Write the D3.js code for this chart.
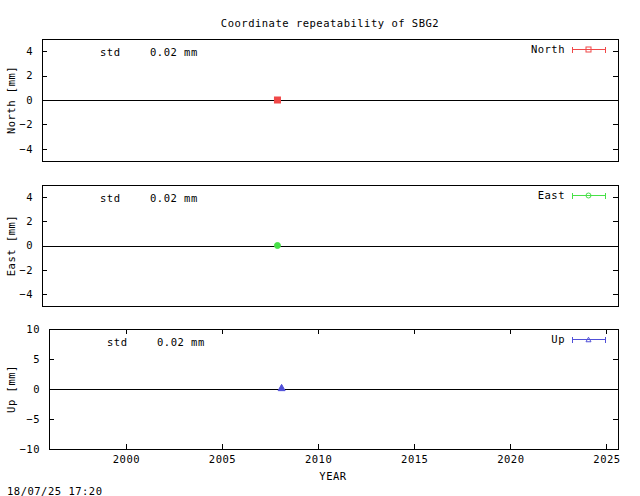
<!DOCTYPE html>
<html>
<head>
<meta charset="utf-8">
<script src="https://cdn.jsdelivr.net/npm/d3@7"></script>
<style>
  body { margin: 0; background: #fff; }
  svg text { font-family: "DejaVu Sans Mono", monospace; font-size: 10.5px; letter-spacing: 0.5px; fill: #000; }
</style>
</head>
<body>
<script>
// values
var components = ["North", "East", "Up"]
var epochs = [2008.1]
var northVals = [0.0]
var eastVals = [0.0]
var upVals = [0.0]
var stdVals = [0.02, 0.02, 0.02]
var yTicksSmall = [-4, -2, 0, 2, 4]
var yTicksUp = [-10, -5, 0, 5, 10]
var xTicks = [2000, 2005, 2010, 2015, 2020, 2025]
var yearRange = [1996, 2025.6]

var width = 640, height = 496

var svg = d3.select("body").append("svg")
  .attr("width", width)
  .attr("height", height)

// panel boxes, gnuplot multiplot style
var panels = [
  { name: components[0], vals: northVals, std: stdVals[0], left: 42, top: 39, bottom: 161, ydom: [-5, 5], yticks: yTicksSmall, color: "#f04848", marker: "square", xaxis: false },
  { name: components[1], vals: eastVals, std: stdVals[1], left: 42, top: 185, bottom: 306, ydom: [-5, 5], yticks: yTicksSmall, color: "#48e048", marker: "circle", xaxis: false },
  { name: components[2], vals: upVals, std: stdVals[2], left: 49, top: 329, bottom: 449, ydom: [-10, 10], yticks: yTicksUp, color: "#5050d8", marker: "triangle", xaxis: true }
]
var right = 618

svg.append("text")
  .attr("x", 330)
  .attr("y", 23)
  .attr("dy", "0.35em")
  .attr("text-anchor", "middle")
  .text("Coordinate repeatability of SBG2")

function drawMarker(g, kind, cx, cy, color, size, filled) {
  if (kind === "square") {
    g.append("rect")
      .attr("x", cx - size / 2).attr("y", cy - size / 2)
      .attr("width", size).attr("height", size)
      .attr("fill", filled ? color : "none")
      .attr("stroke", color)
  } else if (kind === "circle") {
    g.append("circle")
      .attr("cx", cx).attr("cy", cy).attr("r", size / 2)
      .attr("fill", filled ? color : "none")
      .attr("stroke", color)
  } else {
    var h = size * 0.9
    g.append("path")
      .attr("d", "M" + (cx - size / 2) + "," + (cy + h / 2) + "L" + cx + "," + (cy - h / 2) + "L" + (cx + size / 2) + "," + (cy + h / 2) + "Z")
      .attr("fill", filled ? color : "none")
      .attr("stroke", color)
  }
}

panels.forEach(function (p) {
  var x = d3.scaleLinear().domain(yearRange).range([p.left, right])
  var y = d3.scaleLinear().domain(p.ydom).range([p.bottom, p.top])
  var g = svg.append("g")

  // y ticks, left with labels and mirrored right
  var yl = g.append("g")
    .attr("transform", "translate(" + p.left + ",0)")
    .call(d3.axisLeft(y).tickValues(p.yticks).tickSize(-5).tickPadding(9).tickFormat(d3.format("d")))
  var yr = g.append("g")
    .attr("transform", "translate(" + right + ",0)")
    .call(d3.axisRight(y).tickValues(p.yticks).tickSize(-5).tickFormat(""))
  var axes = [yl, yr]

  if (p.xaxis) {
    var xb = g.append("g")
      .attr("transform", "translate(0," + p.bottom + ")")
      .call(d3.axisBottom(x).tickValues(xTicks).tickSize(-5).tickPadding(7).tickFormat(d3.format("d")))
    var xt = g.append("g")
      .attr("transform", "translate(0," + p.top + ")")
      .call(d3.axisTop(x).tickValues(xTicks).tickSize(-5).tickFormat(""))
    axes.push(xb, xt)
    g.append("text")
      .attr("x", 333)
      .attr("y", 476)
      .attr("dy", "0.35em")
      .attr("text-anchor", "middle")
      .text("YEAR")
  }
  axes.forEach(function (a) {
    a.select(".domain").remove()
    a.selectAll("line").attr("stroke", "#000").attr("shape-rendering", "crispEdges")
    a.attr("font-family", null).attr("font-size", null)
  })

  // frame
  g.append("rect")
    .attr("x", p.left).attr("y", p.top)
    .attr("width", right - p.left).attr("height", p.bottom - p.top)
    .attr("fill", "none").attr("stroke", "#000")
    .attr("shape-rendering", "crispEdges")

  // zero axis
  var y0 = Math.round(y(0)) + 0.5
  g.append("line")
    .attr("x1", p.left).attr("x2", right)
    .attr("y1", y0).attr("y2", y0)
    .attr("stroke", "#000").attr("stroke-width", 1)
    .attr("shape-rendering", "crispEdges")

  // y label
  g.append("text")
    .attr("transform", "translate(11," + ((p.top + p.bottom) / 2) + ") rotate(-90)")
    .attr("dy", "0.35em")
    .attr("text-anchor", "middle")
    .text(p.name + " [mm]")

  // std annotation
  g.append("text")
    .attr("x", p.left + 58).attr("y", p.top + 13).attr("dy", "0.35em")
    .text("std")
  g.append("text")
    .attr("x", p.left + 108).attr("y", p.top + 13).attr("dy", "0.35em")
    .text(p.std.toFixed(2) + " mm")

  // legend
  var ly = p.top + 10.5
  g.append("text")
    .attr("x", 565).attr("y", ly).attr("dy", "0.35em")
    .attr("text-anchor", "end")
    .text(p.name)
  var leg = g.append("g").attr("shape-rendering", "crispEdges")
  leg.append("line").attr("x1", 572).attr("x2", 605).attr("y1", ly).attr("y2", ly).attr("stroke", p.color)
  leg.append("line").attr("x1", 572).attr("x2", 572).attr("y1", ly - 3).attr("y2", ly + 3).attr("stroke", p.color)
  leg.append("line").attr("x1", 605).attr("x2", 605).attr("y1", ly - 3).attr("y2", ly + 3).attr("stroke", p.color)
  drawMarker(g, p.marker, 588.5, ly, p.color, 5, false)

  // data points
  epochs.forEach(function (t, i) {
    var cx = x(t), cy = y(p.vals[i])
    if (p.marker === "triangle") cy -= 1.5
    drawMarker(g, p.marker, cx, cy, p.color, p.marker === "triangle" ? 7 : 6, true)
  })
})

svg.append("text")
  .attr("x", 7)
  .attr("y", 491)
  .attr("dy", "0.35em")
  .text("18/07/25 17:20")
</script>
</body>
</html>
